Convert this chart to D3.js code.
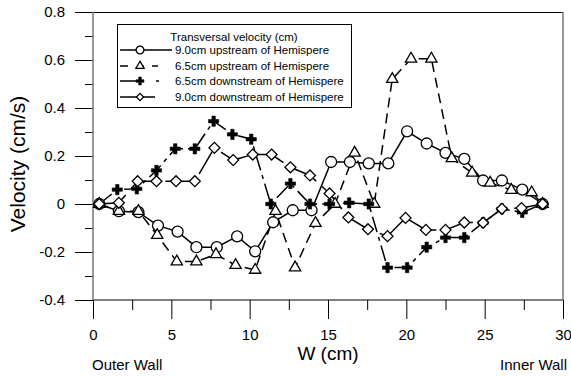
<!DOCTYPE html>
<html>
<head>
<meta charset="utf-8">
<script src="https://cdn.jsdelivr.net/npm/d3@7"></script>
<style>
  body { margin: 0; background: #fff; }
  text { font-family: "Liberation Sans", Arial, sans-serif; fill: #000; }
</style>
</head>
<body>
<svg id="chart" width="571" height="376"></svg>
<script>
// tick values
const xTicks = [0, 5, 10, 15, 20, 25, 30];
const xMinor = [2.5, 7.5, 12.5, 17.5, 22.5, 27.5];
const yTicks = [-0.4, -0.2, 0, 0.2, 0.4, 0.6, 0.8];
const yMinor = [-0.3, -0.1, 0.1, 0.3, 0.5, 0.7];

const legendTitle = 'Transversal velocity (cm)';
const seriesNames = [
  '9.0cm upstream of Hemispere',
  '6.5cm upstream of Hemispere',
  '6.5cm downstream of Hemispere',
  '9.0cm downstream of Hemispere'
];

// 9.0cm upstream (circles)
const up90W = [0.4, 1.65, 2.9, 4.15, 5.4, 6.6, 7.9, 9.2, 10.35, 11.5, 12.75, 13.95, 15.2, 16.4, 17.6, 18.85, 20.05, 21.3, 22.5, 23.7, 24.9, 26.1, 27.4, 28.7];
const up90V = [0, -0.03, -0.034, -0.09, -0.115, -0.18, -0.18, -0.135, -0.197, -0.076, -0.026, -0.026, 0.175, 0.175, 0.169, 0.169, 0.303, 0.252, 0.213, 0.188, 0.098, 0.098, 0.06, 0];

// 6.5cm upstream (triangles)
const up65W = [0.4, 1.65, 2.9, 4.1, 5.35, 6.6, 7.85, 9.1, 10.35, 11.65, 12.9, 14.2, 15.45, 16.7, 17.95, 19.1, 20.3, 21.6, 22.9, 24.2, 25.35, 26.7, 28.0, 28.7];
const up65V = [0, -0.03, -0.03, -0.13, -0.24, -0.24, -0.21, -0.255, -0.275, -0.03, -0.265, -0.08, 0, 0.213, 0, 0.52, 0.605, 0.605, 0.19, 0.13, 0.088, 0.058, 0.048, 0];

// 6.5cm downstream (crosses)
const dn65W = [0.4, 1.55, 2.8, 4.05, 5.25, 6.5, 7.7, 8.9, 10.1, 11.35, 12.6, 13.85, 15.1, 16.35, 17.6, 18.8, 20.05, 21.3, 22.5, 23.7, 24.9, 26.1, 27.4, 28.7];
const dn65V = [0, 0.06, 0.063, 0.14, 0.23, 0.23, 0.345, 0.29, 0.27, 0, 0.085, 0, 0, 0.005, 0, -0.265, -0.265, -0.18, -0.14, -0.14, -0.078, -0.02, -0.035, 0];

// 9.0cm downstream (diamonds)
const dn90W = [0.4, 1.65, 2.85, 4.05, 5.3, 6.5, 7.75, 8.95, 10.2, 11.4, 12.6, 13.85, 15.1, 16.3, 17.55, 18.8, 19.95, 21.25, 22.5, 23.7, 24.9, 26.1, 27.35, 28.7];
const dn90V = [0, 0.005, 0.095, 0.095, 0.095, 0.095, 0.234, 0.183, 0.206, 0.206, 0.153, 0.119, 0.044, -0.056, -0.105, -0.134, -0.058, -0.108, -0.108, -0.077, -0.078, -0.02, -0.017, 0];

(function () {
  const svg = d3.select('#chart');
  const left = 93, right = 563, top = 12, bottom = 300;

  const x = d3.scaleLinear().domain([0, 30]).range([left, right]);
  const y = d3.scaleLinear().domain([-0.4, 0.8]).range([bottom, top]);

  const series = [
    { w: up90W, v: up90V, sym: 'circle', dash: null },
    { w: up65W, v: up65V, sym: 'triangle', dash: '10,6' },
    { w: dn65W, v: dn65V, sym: 'cross', dash: '16,5,4,5' },
    { w: dn90W, v: dn90V, sym: 'diamond', dash: '30,8' }
  ];

  const symType = { circle: d3.symbolCircle, triangle: d3.symbolTriangle, cross: d3.symbolCross, diamond: d3.symbolSquare };
  const bigSize = { circle: 95, triangle: 55, cross: 58, diamond: 60 };
  const smallSize = { circle: 48, triangle: 30, cross: 34, diamond: 26 };

  function drawMarker(g, sym, size, cx, cy) {
    g.append('path')
      .attr('d', d3.symbol().type(symType[sym]).size(size)())
      .attr('transform', `translate(${cx},${cy})` + (sym === 'diamond' ? ' rotate(45)' : ''))
      .attr('fill', sym === 'cross' ? '#000' : '#fff')
      .attr('stroke', '#000')
      .attr('stroke-width', sym === 'cross' ? 0.6 : 1.3);
  }

  // axes: major + minor ticks
  const fmt = d => (d === 0 ? '0' : String(+d.toFixed(1)));

  const xAxis = svg.append('g')
    .attr('transform', `translate(0,${bottom})`)
    .call(d3.axisBottom(x).tickValues(xTicks).tickSize(19).tickPadding(10).tickFormat(d => String(d)));
  svg.append('g')
    .attr('transform', `translate(0,${bottom})`)
    .call(d3.axisBottom(x).tickValues(xMinor).tickSize(10).tickFormat(''))
    .select('.domain').remove();

  const yAxis = svg.append('g')
    .attr('transform', `translate(${left},0)`)
    .call(d3.axisLeft(y).tickValues(yTicks).tickSize(18).tickPadding(10).tickFormat(fmt));
  svg.append('g')
    .attr('transform', `translate(${left},0)`)
    .call(d3.axisLeft(y).tickValues(yMinor).tickSize(8).tickFormat(''))
    .select('.domain').remove();

  svg.selectAll('.tick text').attr('font-size', 15).attr('font-family', '"Liberation Sans", Arial, sans-serif');
  xAxis.select('.domain').remove();
  yAxis.select('.domain').remove();

  // frame
  svg.append('line').attr('x1', left).attr('x2', right).attr('y1', bottom).attr('y2', bottom).attr('stroke', '#000');
  svg.append('line').attr('x1', left).attr('x2', right).attr('y1', top + 0.5).attr('y2', top + 0.5).attr('stroke', '#000');
  svg.append('line').attr('x1', left).attr('x2', left).attr('y1', top).attr('y2', bottom).attr('stroke', '#777').attr('stroke-width', 1.5);
  svg.append('line').attr('x1', right).attr('x2', right).attr('y1', top).attr('y2', bottom).attr('stroke', '#777').attr('stroke-width', 1.5);

  // lines
  const line = d3.line().x(d => x(d[0])).y(d => y(d[1]));
  series.forEach(s => {
    const pts = s.w.map((w, i) => [w, s.v[i]]);
    svg.append('path')
      .attr('d', line(pts))
      .attr('fill', 'none')
      .attr('stroke', '#000')
      .attr('stroke-width', 1.5)
      .attr('stroke-dasharray', s.dash);
  });

  // markers
  series.forEach(s => {
    const g = svg.append('g');
    s.w.forEach((w, i) => drawMarker(g, s.sym, bigSize[s.sym], x(w), y(s.v[i])));
  });

  // legend
  const lg = svg.append('g');
  lg.append('rect').attr('x', 117.5).attr('y', 24.5).attr('width', 234).attr('height', 83)
    .attr('fill', '#fff').attr('stroke', '#000');
  lg.append('text').attr('x', 234).attr('y', 41).attr('text-anchor', 'middle')
    .attr('font-size', 11.5).text(legendTitle);
  const rowY = [50, 66, 81, 97];
  const rowDash = [null, '8,12,4,8,10', '17,19,3,20', null];
  const rowEnd = [172, 158, 160, 155];
  series.forEach((s, i) => {
    lg.append('line').attr('x1', 120).attr('x2', rowEnd[i]).attr('y1', rowY[i]).attr('y2', rowY[i])
      .attr('stroke', '#000').attr('stroke-width', 1.5).attr('stroke-dasharray', rowDash[i]);
    drawMarker(lg, s.sym, smallSize[s.sym], 140, rowY[i]);
    lg.append('text').attr('x', 175).attr('y', rowY[i] + 4).attr('font-size', 11.5).text(seriesNames[i]);
  });

  // axis titles
  svg.append('text').attr('x', 328).attr('y', 360).attr('text-anchor', 'middle')
    .attr('font-size', 19).text('W (cm)');
  svg.append('text').attr('transform', 'translate(25,164) rotate(-90)').attr('text-anchor', 'middle')
    .attr('font-size', 21).text('Velocity (cm/s)');
  svg.append('text').attr('x', 92).attr('y', 370).attr('font-size', 15).text('Outer Wall');
  svg.append('text').attr('x', 567).attr('y', 370).attr('text-anchor', 'end').attr('font-size', 15).text('Inner Wall');
})();
</script>
</body>
</html>
